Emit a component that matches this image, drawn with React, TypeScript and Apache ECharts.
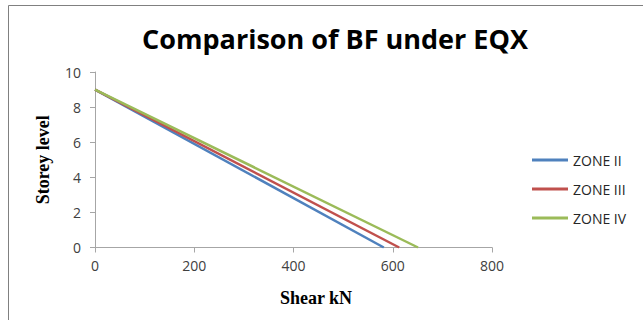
import React, { useEffect, useRef } from "react";
import * as echarts from "echarts";

const seriesNames = ["ZONE II", "ZONE III", "ZONE IV"];
const colors = ["#4F81BD", "#C0504D", "#9BBB59"];
const zone2: [number, number][] = [[0, 9], [582, 0]];
const zone3: [number, number][] = [[0, 9], [613, 0]];
const zone4: [number, number][] = [[0, 9], [651, 0]];
const seriesData = [zone2, zone3, zone4];

export default function App() {
  const ref = useRef<HTMLDivElement>(null);
  useEffect(() => {
    if (!ref.current) return;
    const chart = echarts.init(ref.current, null, { renderer: "svg" });
    const labelStyle = { color: "#404040", fontSize: 14, fontFamily: "Open Sans" };
    chart.setOption({
      animation: false,
      backgroundColor: "#ffffff",
      title: {
        text: "Comparison of BF under EQX",
        left: 330,
        top: 20,
        textAlign: "center",
        textStyle: { fontFamily: "Open Sans", fontWeight: "bold", fontSize: 27, color: "#000" },
      },
      grid: { left: 95, right: 151, top: 72, bottom: 72.5, containLabel: false },
      legend: {
        orient: "vertical",
        left: 532,
        top: 151,
        padding: 0,
        itemWidth: 36,
        itemHeight: 3,
        itemGap: 11,
        icon: "rect",
        textStyle: { color: "#262626", fontSize: 14, fontFamily: "Open Sans", lineHeight: 18 },
        data: seriesNames,
      },
      xAxis: {
        type: "value",
        min: 0,
        max: 800,
        interval: 200,
        axisLine: { lineStyle: { color: "#A6A6A6", width: 1 } },
        axisTick: { show: true, length: 5, lineStyle: { color: "#A6A6A6" } },
        splitLine: { show: false },
        axisLabel: { ...labelStyle, margin: 11 },
      },
      yAxis: {
        type: "value",
        min: 0,
        max: 10,
        interval: 2,
        name: "Storey level",
        nameLocation: "middle",
        nameGap: 43,
        nameRotate: 90,
        nameTextStyle: { fontFamily: "Liberation Serif", fontWeight: "bold", fontSize: 18, color: "#000" },
        axisLine: { show: true, lineStyle: { color: "#A6A6A6", width: 1 } },
        axisTick: { show: true, length: 5, lineStyle: { color: "#A6A6A6" } },
        splitLine: { show: false },
        axisLabel: { ...labelStyle, margin: 14 },
      },
      graphic: [
        {
          type: "text",
          x: 316,
          y: 298,
          style: {
            text: "Shear kN",
            fontFamily: "Liberation Serif",
            fontWeight: "bold",
            fontSize: 18,
            fill: "#000",
            textAlign: "center",
            textVerticalAlign: "middle",
          },
        },
        {
          type: "line",
          shape: { x1: 8.5, y1: 5.5, x2: 643, y2: 5.5 },
          style: { stroke: "#808080", lineWidth: 1 },
        },
        {
          type: "line",
          shape: { x1: 8.5, y1: 5.5, x2: 8.5, y2: 320 },
          style: { stroke: "#808080", lineWidth: 1 },
        },
      ],
      series: seriesNames.map((name, i) => ({
        name,
        type: "line",
        data: seriesData[i],
        showSymbol: false,
        symbol: "none",
        lineStyle: { color: colors[i], width: 2.5 },
        itemStyle: { color: colors[i] },
      })),
    });
    return () => chart.dispose();
  }, []);
  return (
    <div
      ref={ref}
      style={{ position: "absolute", left: 0, top: 0, width: 643, height: 320 }}
    />
  );
}
